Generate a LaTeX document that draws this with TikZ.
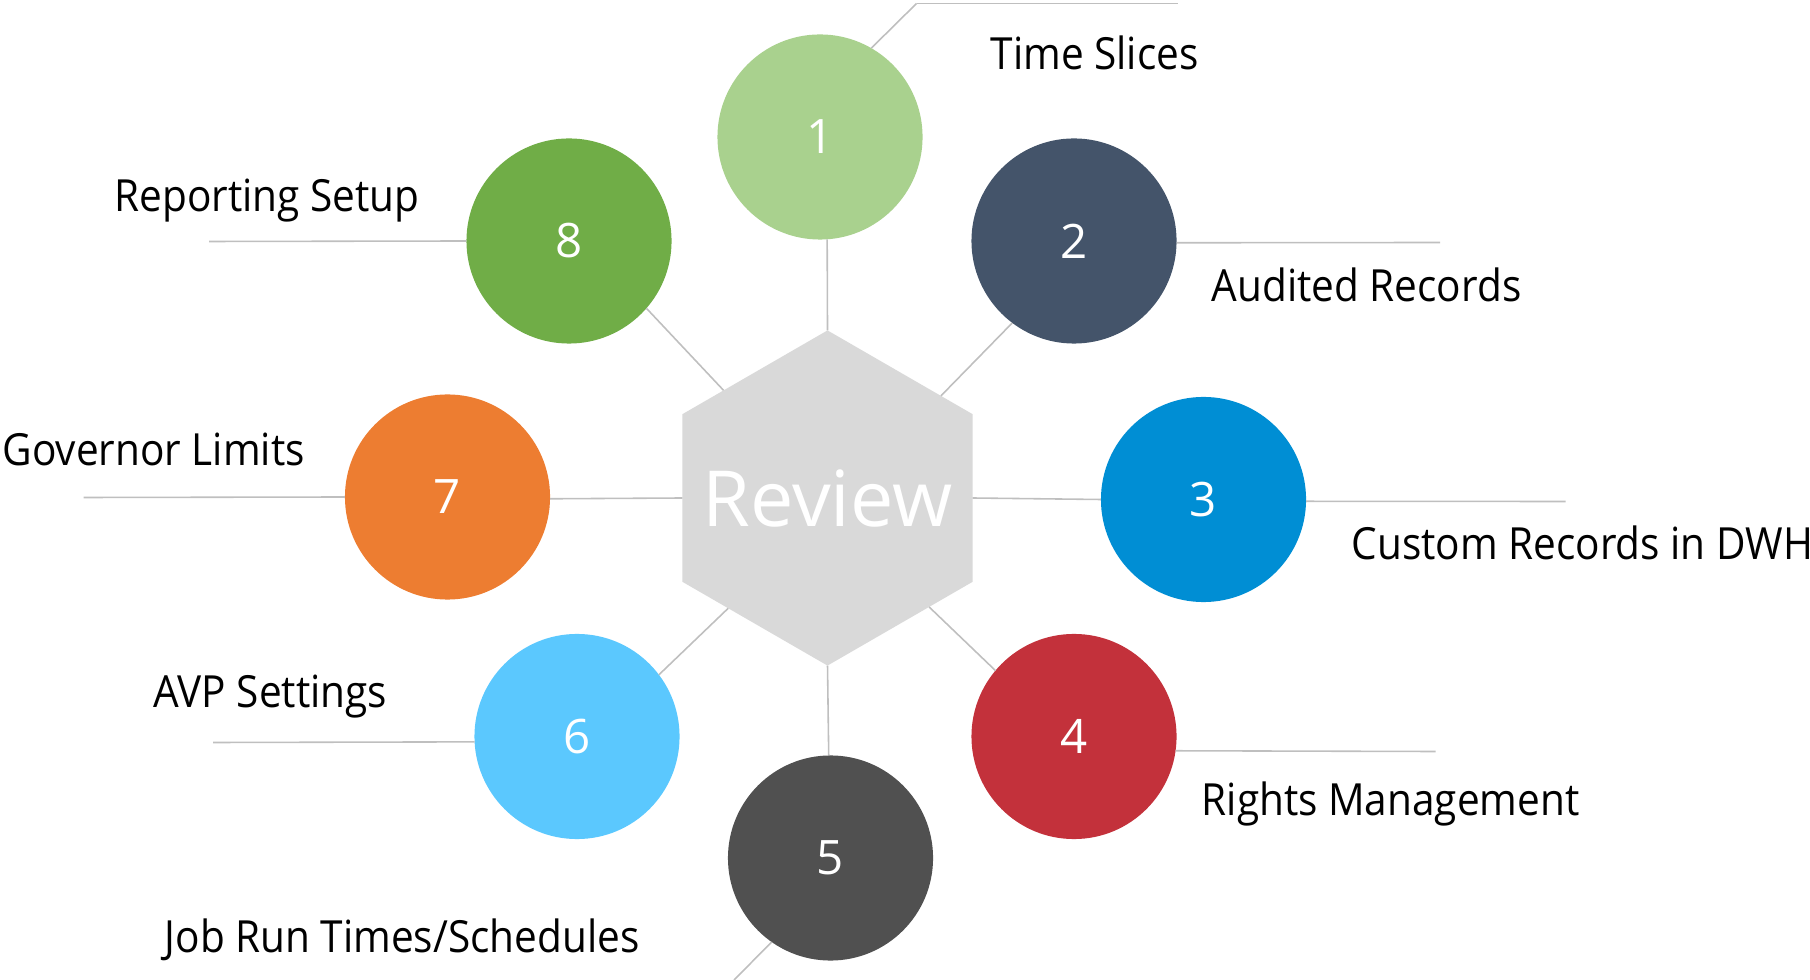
\documentclass[tikz,border=0pt]{standalone}
\usepackage{fontspec}
\setmainfont{Open Sans}
\newfontfamily\labelfont{Open Sans}[FakeStretch=0.915]
\usepackage{tikz}
\usetikzlibrary{shapes.geometric}
\definecolor{cOne}{HTML}{A9D18E}
\definecolor{cTwo}{HTML}{44546A}
\definecolor{cThree}{HTML}{008ED4}
\definecolor{cFour}{HTML}{C3313B}
\definecolor{cFive}{HTML}{505050}
\definecolor{cSix}{HTML}{5BC8FE}
\definecolor{cSeven}{HTML}{ED7D31}
\definecolor{cEight}{HTML}{70AD47}
\definecolor{hubGrey}{HTML}{D9D9D9}
\definecolor{lineGrey}{HTML}{BFBFBF}

\begin{document}
\begin{tikzpicture}[x=0.01cm,y=-0.01cm,
		every edge/.style={draw=lineGrey,line width=0.45pt},
		num node/.style={circle,minimum size=2.05cm,inner sep=0pt,outer sep=0pt,text=white,font=\fontsize{13.5}{15}\selectfont},
		hub node/.style={regular polygon,regular polygon sides=6,shape border rotate=30,minimum size=3.35cm,inner sep=0pt,outer sep=0pt,fill=hubGrey},
		hub text/.style={text=white,font=\fontsize{22}{26}\selectfont},
		item/.style={anchor=base west,inner sep=0pt,font=\labelfont\fontsize{12.6}{15}\selectfont}]
		\useasboundingbox (0,0) rectangle (1810,980);
		\node[hub node,label={[hub text]center:Review}] (r) at (827.5,498) {};
		\node[num node,fill=cOne] (1) at (820,137) {1};
		\node[num node,fill=cTwo] (2) at (1074,241) {2};
		\node[num node,fill=cThree] (3) at (1203.5,499.5) {3};
		\node[num node,fill=cFour] (4) at (1074,736.5) {4};
		\node[num node,fill=cFive] (5) at (830.5,858) {5};
		\node[num node,fill=cSix] (6) at (577,736.5) {6};
		\node[num node,fill=cSeven] (7) at (447.5,497) {7};
		\node[num node,fill=cEight] (8) at (569,241) {8};
		% labels
		\node[item] (ts) at (990,70) {Time Slices};
		\node[item] (ar) at (1211,302) {Audited Records};
		\node[item] (cr) at (1351,560) {Custom Records in DWH};
		\node[item] (rm) at (1201,815) {Rights Management};
		\node[item] (jr) at (164,952) {Job Run Times/Schedules};
		\node[item] (avp) at (153,707) {AVP Settings};
		\node[item] (gl) at (2,466) {Governor Limits};
		\node[item] (rs) at (114,212) {Reporting Setup};
		% ends of the label lines
		\coordinate (t1a) at (916.5,3.5);
		\coordinate (t1b) at (1177.5,3.5);
		\coordinate (l2) at (1440,242.5);
		\coordinate (l3) at (1565.5,501.5);
		\coordinate (l4) at (1435.5,751.5);
		\coordinate (l5) at (734,980);
		\coordinate (l6) at (213,742.5);
		\coordinate (l7) at (83.5,497.5);
		\coordinate (l8) at (209,241.5);
		% hub to circles
		\path (r.90) edge (1.-86)
		(r.42) edge (2.-127)
		(r.-0.8) edge (3.180.3)
		(r.-47) edge (4.140.5)
		(r.-90) edge (5.91)
		(r.-132) edge (6.37)
		(r.180.8) edge (7.-1.7)
		(r.134) edge (8.-41.5);
		% circles to labels
		\path (1.60) edge (t1a)
		(t1a) edge (t1b)
		(2.-1) edge (l2)
		(3.-1) edge (l3)
		(4.-8.5) edge (l4)
		(5.-125) edge (l5)
		(6.183) edge (l6)
		(7.180) edge (l7)
		(8.180) edge (l8);
\end{tikzpicture}
\end{document}
